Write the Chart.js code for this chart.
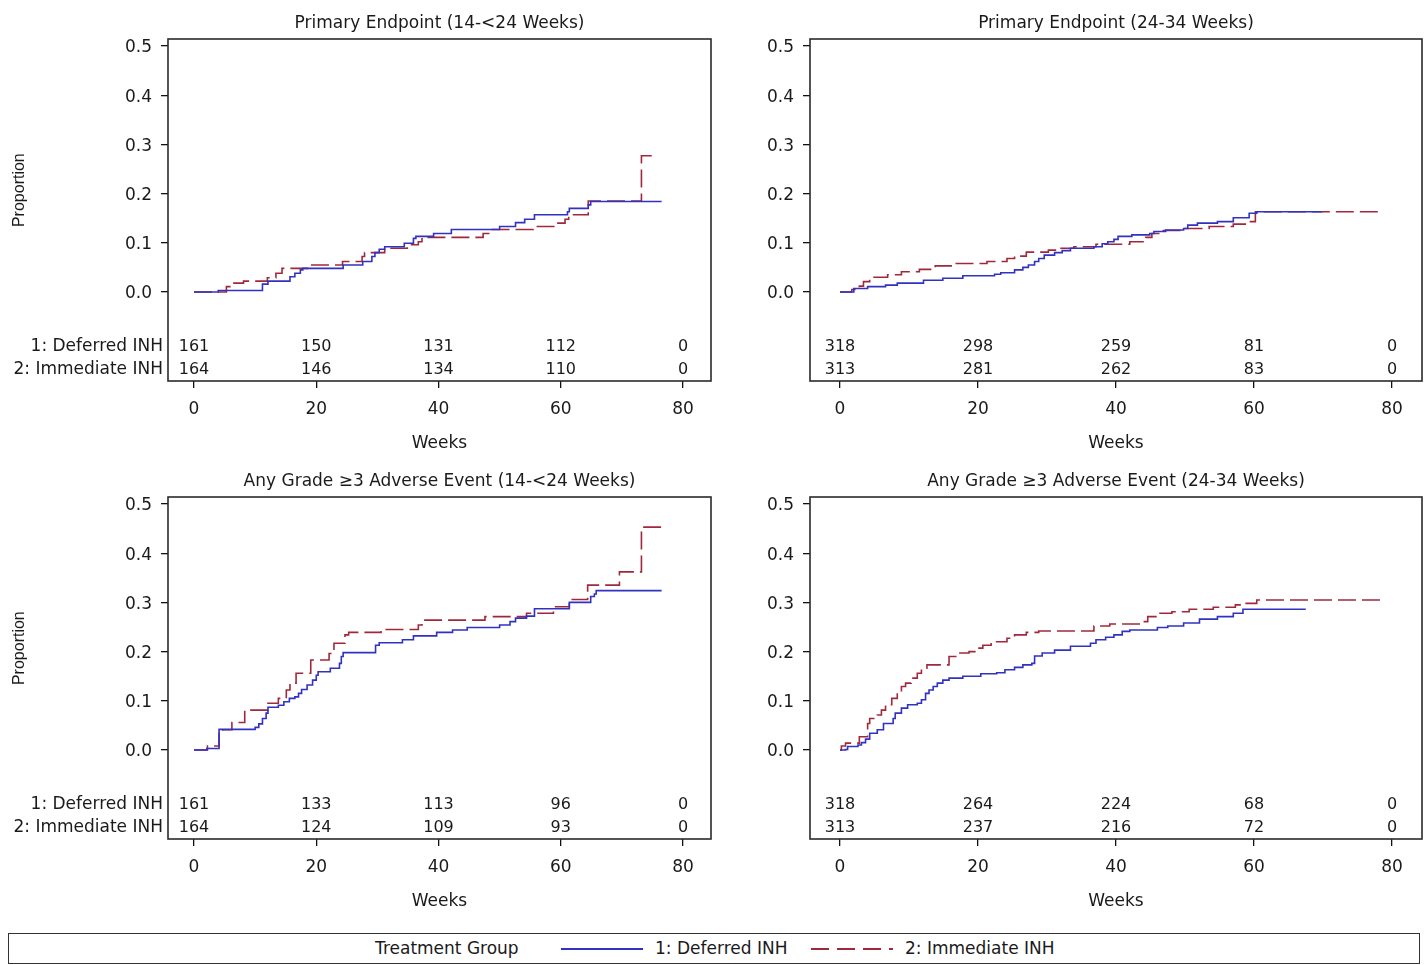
<!DOCTYPE html>
<html>
<head>
<meta charset="utf-8">
<script src="https://cdn.jsdelivr.net/npm/chart.js@4.4.1/dist/chart.umd.min.js"></script>
<style>
  body { margin: 0; background: #fff; width: 1425px; height: 965px; position: relative; overflow: hidden; font-family: "DejaVu Sans", sans-serif; color: #1a1a1a; }
  canvas { position: absolute; }
  #legend { position: absolute; left: 8px; top: 933px; width: 1410px; height: 29px; border: 1.5px solid #333; }
  #legend span { position: absolute; top: 4px; font-size: 17px; white-space: nowrap; }
  #legend .sample { position: absolute; top: 14px; height: 2px; }
</style>
</head>
<body>
<canvas id="c1" width="720" height="460" style="left:0;top:0"></canvas>
<canvas id="c2" width="705" height="460" style="left:720px;top:0"></canvas>
<canvas id="c3" width="720" height="460" style="left:0;top:458px"></canvas>
<canvas id="c4" width="705" height="460" style="left:720px;top:458px"></canvas>

<div id="legend">
  <span style="left:366px">Treatment Group</span>
  <div class="sample" style="left:552px;width:82px;background:#3232c0"></div>
  <span style="left:646px">1: Deferred INH</span>
  <div class="sample" style="left:802px;width:82px;background:repeating-linear-gradient(to right,#a0283c 0 18px,transparent 18px 26px)"></div>
  <span style="left:896px">2: Immediate INH</span>
</div>

<script>
// tick labels
const weekTicks = [0, 20, 40, 60, 80];
const propTicks = [0, 0.1, 0.2, 0.3, 0.4, 0.5];
const groupLabels = ['1: Deferred INH', '2: Immediate INH'];

// Primary Endpoint (14-<24 Weeks)
const pe1DefWeeks = [0, 3.96, 11.2, 12.1, 15.7, 16.5, 17.4, 17.8, 24.4, 27.6, 29.1, 29.6, 30.3, 31.2, 34.4, 35.9, 36.3, 39.2, 42.1, 50.0, 52.6, 54.1, 55.7, 61.1, 61.4, 64.5, 64.9, 76.5];
const pe1DefProp  = [0, 0.003, 0.016, 0.022, 0.031, 0.038, 0.045, 0.048, 0.055, 0.062, 0.072, 0.080, 0.087, 0.092, 0.099, 0.109, 0.113, 0.119, 0.127, 0.133, 0.141, 0.148, 0.157, 0.163, 0.170, 0.177, 0.184, 0.184];
const pe1ImmWeeks = [0, 5.3, 6.2, 8.1, 12.0, 13.4, 14.4, 19.1, 24.3, 27.5, 27.9, 31.2, 34.9, 36.7, 37.3, 47.3, 48.8, 55.5, 59.1, 60.7, 61.3, 64.5, 73.2, 75.5];
const pe1ImmProp  = [0, 0.011, 0.018, 0.022, 0.029, 0.038, 0.048, 0.055, 0.062, 0.072, 0.080, 0.089, 0.096, 0.102, 0.111, 0.119, 0.127, 0.133, 0.140, 0.148, 0.157, 0.185, 0.277, 0.277];
const pe1DefRisk = [161, 150, 131, 112, 0];
const pe1ImmRisk = [164, 146, 134, 110, 0];

// Primary Endpoint (24-34 Weeks)
const pe2DefWeeks = [0, 2.0, 4.0, 6.6, 8.3, 12.1, 14.9, 17.8, 22.4, 23.3, 25.3, 26.5, 27.3, 28.2, 28.8, 29.6, 31.1, 32.2, 33.4, 36.8, 38.0, 38.8, 39.7, 40.3, 42.3, 44.9, 45.5, 47.2, 49.8, 50.4, 51.8, 54.7, 57.0, 59.3, 60.4, 69.9];
const pe2DefProp  = [0, 0.007, 0.011, 0.014, 0.018, 0.024, 0.028, 0.033, 0.036, 0.039, 0.045, 0.050, 0.055, 0.062, 0.068, 0.075, 0.080, 0.084, 0.089, 0.092, 0.098, 0.102, 0.107, 0.113, 0.116, 0.119, 0.123, 0.126, 0.129, 0.136, 0.140, 0.143, 0.151, 0.160, 0.163, 0.163];
const pe2ImmWeeks = [0, 1.7, 2.8, 3.4, 4.3, 6.9, 8.9, 11.5, 13.8, 16.7, 21.3, 24.2, 25.3, 27.0, 30.2, 31.9, 33.9, 37.1, 42.0, 44.3, 45.2, 46.6, 49.8, 53.5, 57.0, 59.3, 60.2, 78.5];
const pe2ImmProp  = [0, 0.005, 0.012, 0.021, 0.030, 0.035, 0.041, 0.046, 0.053, 0.058, 0.062, 0.068, 0.073, 0.081, 0.085, 0.089, 0.092, 0.097, 0.102, 0.111, 0.119, 0.125, 0.129, 0.133, 0.138, 0.143, 0.163, 0.163];
const pe2DefRisk = [318, 298, 259, 81, 0];
const pe2ImmRisk = [313, 281, 262, 83, 0];

// Any Grade >=3 Adverse Event (14-<24 Weeks)
const ae1DefWeeks = [0, 2.1, 4.1, 10.0, 10.6, 11.2, 11.8, 12.1, 13.8, 14.7, 15.6, 16.5, 17.1, 17.6, 18.5, 19.4, 20.0, 20.3, 22.3, 23.8, 24.1, 24.4, 29.7, 30.3, 34.1, 35.9, 39.7, 42.3, 44.7, 50.0, 51.7, 52.6, 54.4, 55.7, 61.4, 64.9, 65.5, 65.8, 76.5];
const ae1DefProp  = [0, 0.003, 0.042, 0.046, 0.053, 0.064, 0.075, 0.087, 0.091, 0.098, 0.105, 0.108, 0.115, 0.123, 0.132, 0.142, 0.152, 0.159, 0.166, 0.176, 0.190, 0.198, 0.213, 0.218, 0.224, 0.232, 0.239, 0.244, 0.249, 0.254, 0.261, 0.268, 0.272, 0.287, 0.300, 0.312, 0.317, 0.324, 0.324];
const ae1ImmWeeks = [0, 2.2, 4.1, 4.7, 6.2, 8.3, 12.1, 13.8, 15.1, 15.7, 16.7, 19.1, 22.1, 22.9, 24.7, 25.3, 30.6, 36.7, 37.3, 47.6, 54.4, 58.8, 61.4, 64.4, 69.6, 73.2, 76.5];
const ae1ImmProp  = [0, 0.008, 0.034, 0.041, 0.056, 0.081, 0.095, 0.105, 0.122, 0.136, 0.156, 0.183, 0.196, 0.217, 0.234, 0.239, 0.245, 0.254, 0.264, 0.271, 0.278, 0.291, 0.306, 0.335, 0.362, 0.453, 0.453];
const ae1DefRisk = [161, 133, 113, 96, 0];
const ae1ImmRisk = [164, 124, 109, 93, 0];

// Any Grade >=3 Adverse Event (24-34 Weeks)
const ae2DefWeeks = [0, 0.8, 1.1, 2.6, 3.1, 3.7, 4.3, 5.4, 6.3, 7.7, 8.0, 8.9, 9.8, 11.2, 11.8, 12.4, 12.9, 13.5, 14.1, 14.9, 15.8, 17.8, 20.4, 22.7, 23.9, 25.3, 26.5, 27.8, 28.2, 29.3, 31.1, 33.4, 36.3, 37.1, 38.5, 39.7, 40.9, 42.0, 46.0, 47.5, 49.8, 52.1, 54.7, 57.0, 58.4, 67.5];
const ae2DefProp  = [0, 0.001, 0.007, 0.010, 0.015, 0.022, 0.034, 0.041, 0.054, 0.064, 0.075, 0.085, 0.092, 0.095, 0.102, 0.115, 0.122, 0.129, 0.136, 0.142, 0.146, 0.150, 0.155, 0.157, 0.163, 0.168, 0.173, 0.176, 0.191, 0.197, 0.203, 0.211, 0.217, 0.224, 0.229, 0.234, 0.241, 0.244, 0.249, 0.252, 0.258, 0.266, 0.271, 0.278, 0.286, 0.286];
const ae2ImmWeeks = [0, 0.2, 0.8, 2.8, 4.0, 4.3, 5.4, 6.0, 6.6, 7.5, 8.3, 8.9, 9.5, 10.3, 11.2, 11.8, 12.6, 15.8, 17.0, 18.7, 19.8, 20.7, 21.9, 24.2, 25.3, 27.0, 28.8, 36.8, 39.1, 43.7, 44.6, 46.0, 48.1, 50.6, 54.1, 57.3, 58.1, 60.4, 78.5];
const ae2ImmProp  = [0, 0.008, 0.014, 0.027, 0.054, 0.064, 0.071, 0.081, 0.092, 0.105, 0.119, 0.129, 0.136, 0.146, 0.156, 0.166, 0.173, 0.190, 0.197, 0.200, 0.207, 0.213, 0.220, 0.227, 0.234, 0.239, 0.242, 0.252, 0.256, 0.261, 0.271, 0.278, 0.281, 0.286, 0.290, 0.295, 0.298, 0.305, 0.305];
const ae2DefRisk = [318, 264, 224, 68, 0];
const ae2ImmRisk = [313, 237, 216, 72, 0];

const BLUE = '#3232c0';
const RED = '#a0283c';
const TXT = '#1a1a1a';
const FONT = '"DejaVu Sans", sans-serif';

let toXY = (w, p) => w.map((x, i) => ({ x: x, y: p[i] }));

// box, title, at-risk table, y title
const panelDecor = {
    id: 'panelDecor',
    afterDraw(chart, args, opts) {
        const ctx = chart.ctx, a = chart.chartArea;
        const xs = chart.scales.x, ys = chart.scales.y;
        ctx.save();
        ctx.strokeStyle = '#2a2a2a';
        ctx.lineWidth = 1.6;
        ctx.strokeRect(a.left, a.top, a.right - a.left, a.bottom - a.top);

        ctx.fillStyle = TXT;
        ctx.textBaseline = 'middle';
        ctx.textAlign = 'center';
        ctx.font = '17px ' + FONT;
        ctx.fillText(opts.title, (a.left + a.right) / 2, a.top - 15);

        const rowY = [ys.getPixelForValue(-0.1077) + 2, ys.getPixelForValue(-0.1545) + 2];
        ctx.font = '16px ' + FONT;
        [opts.defRisk, opts.immRisk].forEach((row, r) => {
            row.forEach((n, i) => {
                ctx.fillText(String(n), xs.getPixelForValue(weekTicks[i]), rowY[r]);
            });
        });

        if (opts.leftLabels) {
            ctx.textAlign = 'right';
            ctx.font = '17px ' + FONT;
            groupLabels.forEach((g, r) => ctx.fillText(g, a.left - 5, rowY[r]));

            ctx.font = '16px "Liberation Sans", Arial, sans-serif';
            ctx.textAlign = 'center';
            ctx.translate(20, ys.getPixelForValue(0.207));
            ctx.rotate(-Math.PI / 2);
            ctx.fillText('Proportion', 0, 0);
        }
        ctx.restore();
    }
};

let makePanel = (id, p) => {
    return new Chart(document.getElementById(id), {
        type: 'line',
        data: {
            datasets: [
                {
                    label: groupLabels[0],
                    data: toXY(p.defW, p.defP),
                    borderColor: BLUE,
                    borderWidth: 1.6,
                    stepped: 'before',
                    pointRadius: 0,
                    fill: false
                },
                {
                    label: groupLabels[1],
                    data: toXY(p.immW, p.immP),
                    borderColor: RED,
                    borderWidth: 1.6,
                    borderDash: [18, 6],
                    stepped: 'before',
                    pointRadius: 0,
                    fill: false
                }]
        },
        options: {
            responsive: false,
            animation: false,
            layout: { padding: { top: 39, right: p.padRight, left: 0, bottom: 0 } },
            plugins: {
                legend: { display: false },
                tooltip: { enabled: false },
                panelDecor: p
            },
            scales: {
                x: {
                    type: 'linear',
                    min: p.xMin,
                    max: p.xMax,
                    afterBuildTicks: s => { s.ticks = weekTicks.map(v => ({ value: v })); },
                    afterFit: s => { s.height = 79; },
                    border: { display: false },
                    grid: { drawOnChartArea: false, drawTicks: true, tickLength: 7, color: '#111', lineWidth: 1.3 },
                    ticks: { color: TXT, font: { family: FONT, size: 17 }, padding: 11, maxRotation: 0 },
                    title: { display: true, text: 'Weeks', color: TXT, font: { family: FONT, size: 17 }, padding: { top: 0, bottom: 6 } }
                },
                y: {
                    type: 'linear',
                    min: -0.1809,
                    max: 0.5142,
                    afterBuildTicks: s => { s.ticks = propTicks.map(v => ({ value: v })); },
                    afterFit: s => { s.width = p.yWidth; },
                    border: { display: false },
                    grid: { drawOnChartArea: false, drawTicks: true, tickLength: 7, color: '#111', lineWidth: 1.3 },
                    ticks: { color: TXT, font: { family: FONT, size: 17 }, padding: 9, labelOffset: 2, callback: v => v.toFixed(1) }
                }
            }
        },
        plugins: [panelDecor]
    });
};

makePanel('c1', {
    title: 'Primary Endpoint (14-<24 Weeks)',
    defW: pe1DefWeeks, defP: pe1DefProp, immW: pe1ImmWeeks, immP: pe1ImmProp,
    defRisk: pe1DefRisk, immRisk: pe1ImmRisk,
    leftLabels: true, yWidth: 168, padRight: 9, xMin: -4.254, xMax: 84.58
});
makePanel('c2', {
    title: 'Primary Endpoint (24-34 Weeks)',
    defW: pe2DefWeeks, defP: pe2DefProp, immW: pe2ImmWeeks, immP: pe2ImmProp,
    defRisk: pe2DefRisk, immRisk: pe2ImmRisk,
    leftLabels: false, yWidth: 90, padRight: 3, xMin: -4.35, xMax: 84.35
});
makePanel('c3', {
    title: 'Any Grade ≥3 Adverse Event (14-<24 Weeks)',
    defW: ae1DefWeeks, defP: ae1DefProp, immW: ae1ImmWeeks, immP: ae1ImmProp,
    defRisk: ae1DefRisk, immRisk: ae1ImmRisk,
    leftLabels: true, yWidth: 168, padRight: 9, xMin: -4.254, xMax: 84.58
});
makePanel('c4', {
    title: 'Any Grade ≥3 Adverse Event (24-34 Weeks)',
    defW: ae2DefWeeks, defP: ae2DefProp, immW: ae2ImmWeeks, immP: ae2ImmProp,
    defRisk: ae2DefRisk, immRisk: ae2ImmRisk,
    leftLabels: false, yWidth: 90, padRight: 3, xMin: -4.35, xMax: 84.35
});
</script>
</body>
</html>
